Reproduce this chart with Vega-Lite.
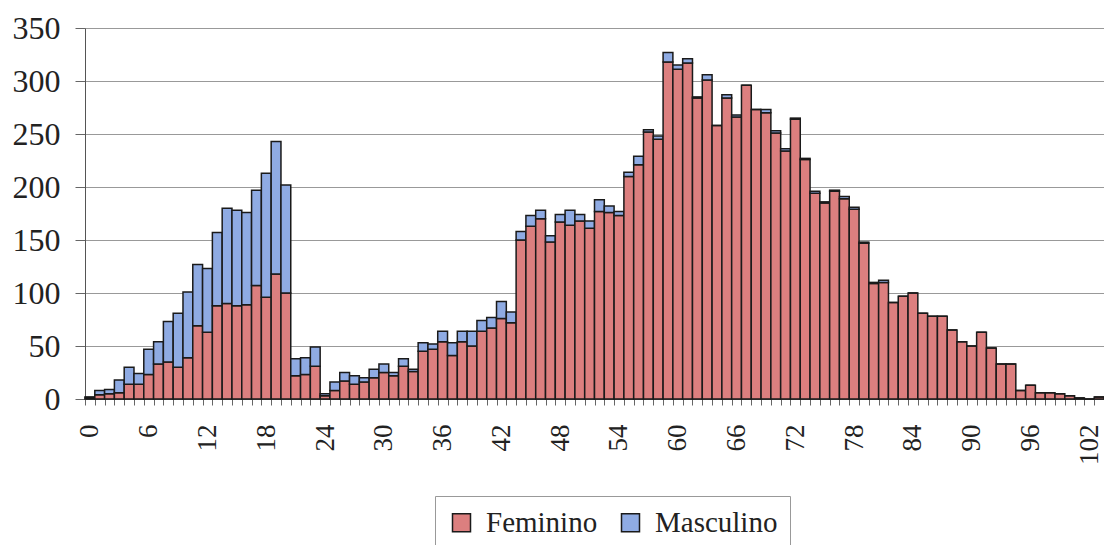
{
  "$schema": "https://vega.github.io/schema/vega-lite/v6.json",
  "width": 1019,
  "height": 371,
  "autosize": {"type": "none"},
  "padding": {"left": 85, "top": 28, "right": 0, "bottom": 146},
  "background": "white",
  "config": {"font": "Times New Roman, Liberation Serif, serif"},
  "data": {"values": [
    {"idade":0,"Feminino":1,"Masculino":1},
    {"idade":1,"Feminino":4,"Masculino":4},
    {"idade":2,"Feminino":5,"Masculino":4},
    {"idade":3,"Feminino":6,"Masculino":12},
    {"idade":4,"Feminino":14,"Masculino":16},
    {"idade":5,"Feminino":14,"Masculino":10},
    {"idade":6,"Feminino":23,"Masculino":24},
    {"idade":7,"Feminino":33,"Masculino":21},
    {"idade":8,"Feminino":35,"Masculino":38},
    {"idade":9,"Feminino":30,"Masculino":51},
    {"idade":10,"Feminino":39,"Masculino":62},
    {"idade":11,"Feminino":69,"Masculino":58},
    {"idade":12,"Feminino":63,"Masculino":60},
    {"idade":13,"Feminino":88,"Masculino":69},
    {"idade":14,"Feminino":90,"Masculino":90},
    {"idade":15,"Feminino":88,"Masculino":90},
    {"idade":16,"Feminino":89,"Masculino":87},
    {"idade":17,"Feminino":107,"Masculino":90},
    {"idade":18,"Feminino":96,"Masculino":117},
    {"idade":19,"Feminino":118,"Masculino":125},
    {"idade":20,"Feminino":100,"Masculino":102},
    {"idade":21,"Feminino":22,"Masculino":16},
    {"idade":22,"Feminino":23,"Masculino":16},
    {"idade":23,"Feminino":31,"Masculino":18},
    {"idade":24,"Feminino":3,"Masculino":2},
    {"idade":25,"Feminino":8,"Masculino":8},
    {"idade":26,"Feminino":17,"Masculino":8},
    {"idade":27,"Feminino":14,"Masculino":8},
    {"idade":28,"Feminino":16,"Masculino":4},
    {"idade":29,"Feminino":20,"Masculino":8},
    {"idade":30,"Feminino":25,"Masculino":8},
    {"idade":31,"Feminino":22,"Masculino":3},
    {"idade":32,"Feminino":31,"Masculino":7},
    {"idade":33,"Feminino":26,"Masculino":2},
    {"idade":34,"Feminino":45,"Masculino":8},
    {"idade":35,"Feminino":47,"Masculino":5},
    {"idade":36,"Feminino":54,"Masculino":10},
    {"idade":37,"Feminino":41,"Masculino":12},
    {"idade":38,"Feminino":54,"Masculino":10},
    {"idade":39,"Feminino":50,"Masculino":14},
    {"idade":40,"Feminino":64,"Masculino":10},
    {"idade":41,"Feminino":67,"Masculino":10},
    {"idade":42,"Feminino":76,"Masculino":16},
    {"idade":43,"Feminino":72,"Masculino":10},
    {"idade":44,"Feminino":150,"Masculino":8},
    {"idade":45,"Feminino":163,"Masculino":10},
    {"idade":46,"Feminino":170,"Masculino":8},
    {"idade":47,"Feminino":148,"Masculino":6},
    {"idade":48,"Feminino":167,"Masculino":7},
    {"idade":49,"Feminino":164,"Masculino":14},
    {"idade":50,"Feminino":168,"Masculino":6},
    {"idade":51,"Feminino":161,"Masculino":7},
    {"idade":52,"Feminino":177,"Masculino":11},
    {"idade":53,"Feminino":176,"Masculino":6},
    {"idade":54,"Feminino":173,"Masculino":4},
    {"idade":55,"Feminino":210,"Masculino":4},
    {"idade":56,"Feminino":221,"Masculino":8},
    {"idade":57,"Feminino":252,"Masculino":2},
    {"idade":58,"Feminino":245,"Masculino":3},
    {"idade":59,"Feminino":318,"Masculino":9},
    {"idade":60,"Feminino":311,"Masculino":4},
    {"idade":61,"Feminino":317,"Masculino":4},
    {"idade":62,"Feminino":284,"Masculino":1},
    {"idade":63,"Feminino":301,"Masculino":5},
    {"idade":64,"Feminino":258,"Masculino":0},
    {"idade":65,"Feminino":284,"Masculino":3},
    {"idade":66,"Feminino":266,"Masculino":2},
    {"idade":67,"Feminino":296,"Masculino":0},
    {"idade":68,"Feminino":273,"Masculino":0},
    {"idade":69,"Feminino":270,"Masculino":3},
    {"idade":70,"Feminino":251,"Masculino":2},
    {"idade":71,"Feminino":234,"Masculino":2},
    {"idade":72,"Feminino":264,"Masculino":1},
    {"idade":73,"Feminino":226,"Masculino":1},
    {"idade":74,"Feminino":194,"Masculino":2},
    {"idade":75,"Feminino":185,"Masculino":1},
    {"idade":76,"Feminino":196,"Masculino":1},
    {"idade":77,"Feminino":189,"Masculino":2},
    {"idade":78,"Feminino":179,"Masculino":2},
    {"idade":79,"Feminino":147,"Masculino":1},
    {"idade":80,"Feminino":109,"Masculino":1},
    {"idade":81,"Feminino":110,"Masculino":2},
    {"idade":82,"Feminino":91,"Masculino":0},
    {"idade":83,"Feminino":97,"Masculino":0},
    {"idade":84,"Feminino":100,"Masculino":0},
    {"idade":85,"Feminino":81,"Masculino":0},
    {"idade":86,"Feminino":78,"Masculino":0},
    {"idade":87,"Feminino":78,"Masculino":0},
    {"idade":88,"Feminino":65,"Masculino":0},
    {"idade":89,"Feminino":54,"Masculino":0},
    {"idade":90,"Feminino":50,"Masculino":0},
    {"idade":91,"Feminino":63,"Masculino":0},
    {"idade":92,"Feminino":48,"Masculino":0},
    {"idade":93,"Feminino":33,"Masculino":0},
    {"idade":94,"Feminino":33,"Masculino":0},
    {"idade":95,"Feminino":8,"Masculino":0},
    {"idade":96,"Feminino":13,"Masculino":0},
    {"idade":97,"Feminino":6,"Masculino":0},
    {"idade":98,"Feminino":6,"Masculino":0},
    {"idade":99,"Feminino":5,"Masculino":0},
    {"idade":100,"Feminino":3,"Masculino":0},
    {"idade":101,"Feminino":1,"Masculino":0},
    {"idade":102,"Feminino":0,"Masculino":0},
    {"idade":103,"Feminino":2,"Masculino":0}
  ]},
  "transform": [{"fold": ["Feminino", "Masculino"], "as": ["sexo", "n"]}],
  "mark": {"type": "bar", "stroke": "#1a1a1a", "strokeWidth": 1.5},
  "encoding": {
    "x": {
      "field": "idade", "type": "ordinal",
      "scale": {"paddingInner": 0, "paddingOuter": 0},
      "axis": {
        "title": null,
        "labelExpr": "datum.value % 6 === 0 ? datum.label : ''",
        "labelOverlap": false,
        "labelAngle": -90,
        "labelFont": "Times New Roman, Liberation Serif, serif",
        "labelFontSize": 27,
        "labelColor": "#222",
        "labelPadding": 19,
        "tickBand": "extent",
        "tickSize": 6,
        "tickColor": "#666",
        "domainColor": "#555",
        "grid": false
      }
    },
    "y": {
      "field": "n", "type": "quantitative", "stack": "zero",
      "scale": {"domain": [0, 350], "nice": false},
      "axis": {
        "title": null,
        "values": [0, 50, 100, 150, 200, 250, 300, 350],
        "labelFont": "Times New Roman, Liberation Serif, serif",
        "labelFontSize": 32,
        "labelColor": "#222",
        "labelPadding": 15,
        "tickSize": 10,
        "tickColor": "#666",
        "domainColor": "#555",
        "grid": true,
        "gridColor": "#999"
      }
    },
    "color": {
      "field": "sexo", "type": "nominal",
      "scale": {"domain": ["Feminino", "Masculino"], "range": ["#DC7F7F", "#8FABE3"]},
      "legend": {
        "title": null,
        "orient": "none",
        "legendX": 350,
        "legendY": 468,
        "direction": "horizontal",
        "symbolType": "square",
        "symbolSize": 324,
        "symbolStrokeColor": "#1a1a1a",
        "symbolStrokeWidth": 1.5,
        "symbolOpacity": 1,
        "labelFont": "Times New Roman, Liberation Serif, serif",
        "labelFontSize": 29,
        "labelColor": "#222",
        "labelOffset": 10,
        "columnPadding": 18,
        "strokeColor": "#999",
        "padding": 12
      }
    },
    "order": {"field": "sexo", "sort": "ascending"}
  }
}
